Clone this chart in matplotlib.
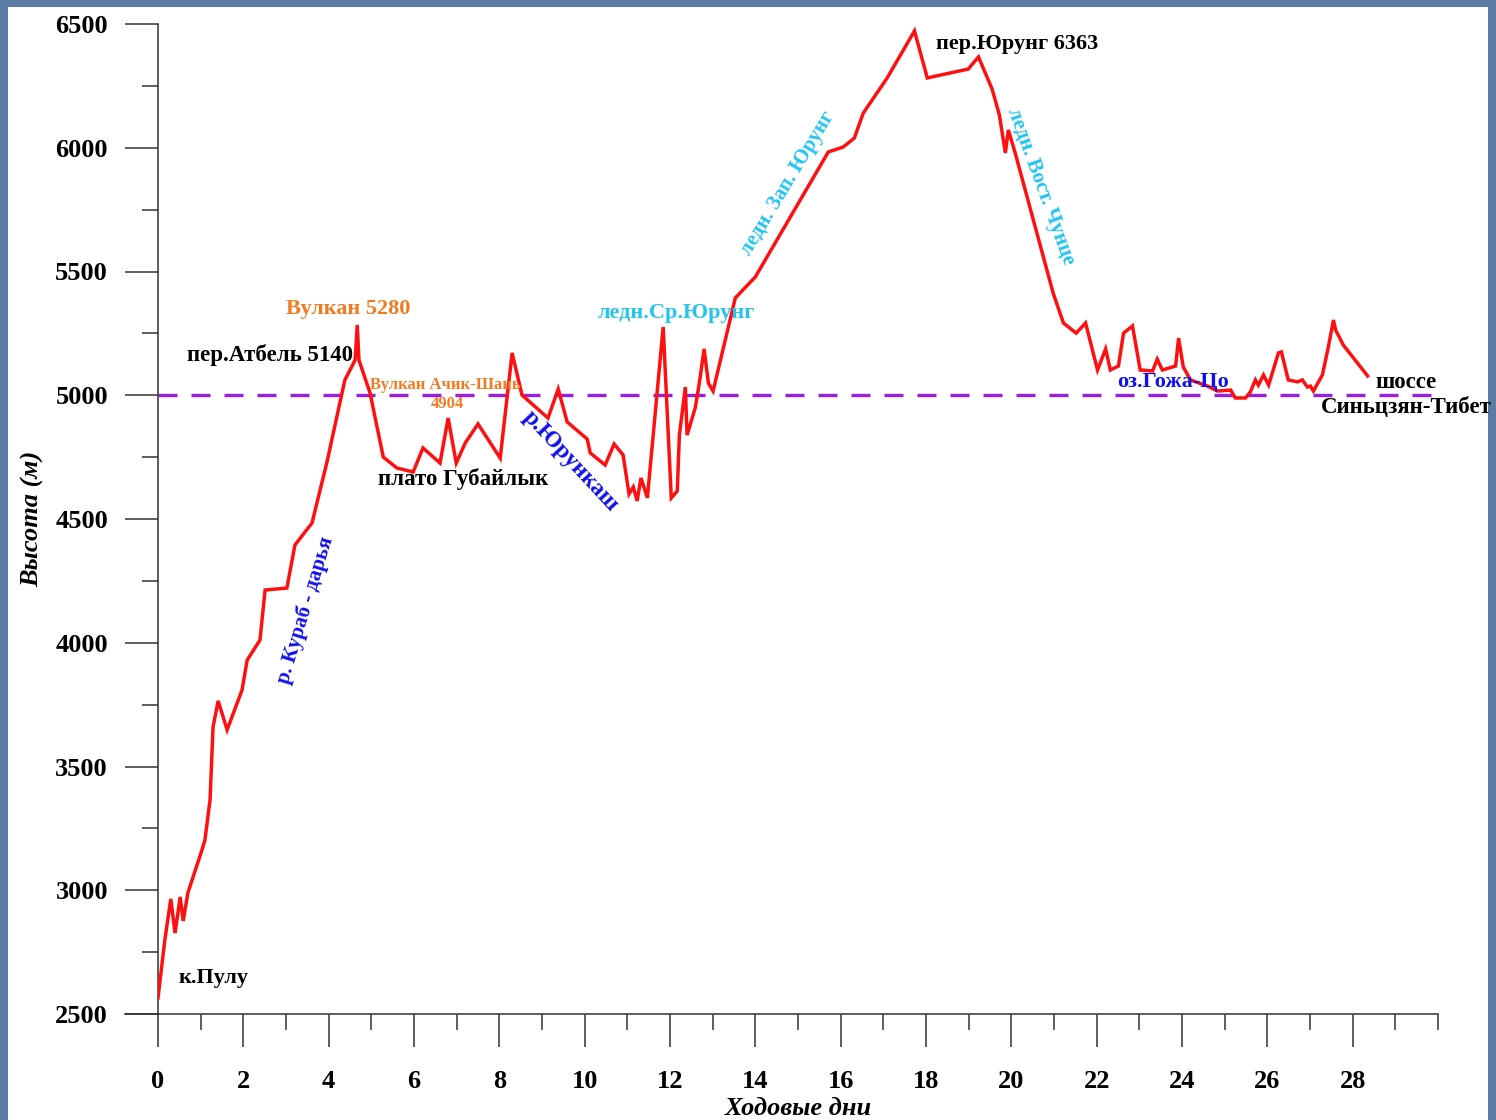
import matplotlib

matplotlib.use("Agg")
import matplotlib.pyplot as plt
from matplotlib.patches import Rectangle
from matplotlib.ticker import MultipleLocator

# elevation profile (day, metres)
days = [0.0, 0.16, 0.30, 0.40, 0.52, 0.59, 0.70, 1.03, 1.10, 1.22, 1.29, 1.41, 1.62,
        1.97, 2.09, 2.39, 2.51, 3.02, 3.21, 3.61, 3.96, 4.38, 4.62, 4.67, 4.71, 4.97,
        5.28, 5.60, 5.98, 6.21, 6.61, 6.80, 6.99, 7.20, 7.50, 8.02, 8.30, 8.53, 9.14,
        9.38, 9.59, 10.06, 10.13, 10.48, 10.69, 10.90, 11.04, 11.14, 11.23, 11.32, 11.47,
        11.84, 12.03, 12.17, 12.22, 12.36, 12.40, 12.59, 12.68, 12.80, 12.90, 13.01,
        13.53, 14.00, 15.71, 16.06, 16.32, 16.53, 17.09, 17.73, 18.03, 18.99, 19.23,
        19.55, 19.72, 19.86, 19.93, 20.09, 20.98, 21.22, 21.52, 21.74, 22.02, 22.21,
        22.32, 22.51, 22.63, 22.84, 23.02, 23.31, 23.42, 23.54, 23.85, 23.92, 24.03,
        24.20, 24.60, 24.83, 25.14, 25.25, 25.49, 25.60, 25.72, 25.79, 25.91, 26.03,
        26.26, 26.33, 26.49, 26.71, 26.82, 26.94, 27.01, 27.08, 27.29, 27.43, 27.55,
        27.60, 27.78, 28.35]
elevation = [2565, 2799, 2965, 2827, 2973, 2876, 2989, 3163, 3203, 3365, 3660, 3765, 3648,
             3809, 3930, 4011, 4213, 4221, 4395, 4484, 4730, 5062, 5142, 5284, 5142, 5009,
             4750, 4706, 4690, 4787, 4726, 4908, 4726, 4807, 4884, 4746, 5171, 5001, 4908,
             5025, 4892, 4823, 4767, 4718, 4803, 4759, 4601, 4629, 4573, 4666, 4585,
             5276, 4585, 4613, 4839, 5033, 4839, 4948, 5041, 5187, 5049, 5017,
             5393, 5478, 5983, 6003, 6039, 6140, 6282, 6472, 6282, 6318, 6367,
             6237, 6132, 5979, 6072, 5979, 5413, 5292, 5251, 5292, 5102, 5187,
             5102, 5118, 5251, 5280, 5102, 5098, 5146, 5102, 5118, 5231, 5114,
             5062, 5037, 5017, 5021, 4989, 4989, 5013, 5062, 5041, 5082, 5041,
             5171, 5175, 5062, 5054, 5062, 5033, 5037, 5017, 5082, 5195, 5304,
             5264, 5203, 5078]

ref_level = 5000

# (text, day, metres, colour, size, rotation)
labels = [
    ("Вулкан 5280", 4.45, 5350, "#f47a20", 16, 0),
    ("пер.Атбель 5140", 2.62, 5163, "black", 16.5, 0),
    ("Вулкан Ачик-Шань", 6.73, 5041, "#f47a20", 12, 0),
    ("4904", 6.78, 4965, "#f47a20", 12, 0),
    ("плато Губайлык", 7.15, 4662, "black", 16.5, 0),
    ("р.Юрункаш", 9.66, 4735, "#1010ee", 17, -47),
    ("р. Кураб - дарья", 3.45, 4132, "#1010ee", 15, 73),
    ("ледн.Ср.Юрунг", 12.15, 5332, "#22c4f2", 16, 0),
    ("ледн. Зап. Юрунг", 14.77, 5857, "#22c4f2", 15, 59),
    ("пер.Юрунг 6363", 20.14, 6419, "black", 16, 0),
    ("ледн. Вост. Чунце", 20.68, 5845, "#22c4f2", 15, -70),
    ("оз.Гожа-Цо", 23.78, 5053, "#1010ee", 16, 0),
    ("шоссе", 29.24, 5053, "black", 16.5, 0),
    ("к.Пулу", 1.29, 2645, "black", 16, 0),
]
road_label = ("Синьцзян-Тибет", 27.25, 4949)

serif = ["Liberation Serif", "DejaVu Serif"]

fig = plt.figure(figsize=(14.96, 11.2), dpi=100)
fig.patch.set_facecolor("#5b7ba5")
page = Rectangle((8 / 1496, 0), 1480 / 1496, 1 - 7 / 1120, transform=fig.transFigure,
                 facecolor="white", edgecolor="none", zorder=-5)
fig.patches.append(page)

ax = fig.add_axes([158 / 1496, 1 - 1014 / 1120, 1280 / 1496, 990 / 1120])
ax.set_facecolor("none")

ax.plot(days, elevation, color="#ff1010", lw=2.5, solid_joinstyle="miter", zorder=3)
ax.axhline(ref_level, xmax=0.995, color="#9a1ee0", lw=2.4, dashes=(5.7, 4.2), zorder=2)

ax.set_xlim(0, 30)
ax.set_ylim(2500, 6500)
ax.xaxis.set_major_locator(MultipleLocator(2))
ax.xaxis.set_minor_locator(MultipleLocator(1))
ax.yaxis.set_major_locator(MultipleLocator(500))
ax.yaxis.set_minor_locator(MultipleLocator(250))
ax.set_xticks(range(0, 29, 2))

for side in ("top", "right"):
    ax.spines[side].set_visible(False)
for side in ("left", "bottom"):
    ax.spines[side].set_color("#333333")
    ax.spines[side].set_linewidth(1.1)
ax.spines["bottom"].set_bounds(-33 / 42.65, 30)

ax.tick_params(which="major", direction="out", length=24, width=1.1, color="#333333",
               labelsize=19)
ax.tick_params(which="minor", direction="out", length=11.5, width=1.1, color="#333333")
ax.tick_params(axis="x", which="major", pad=16)
ax.tick_params(axis="y", which="major", pad=12)
for lab in ax.get_xticklabels() + ax.get_yticklabels():
    lab.set_family(serif)
    lab.set_fontweight("bold")

ax.set_xlabel("Ходовые дни", family=serif, fontsize=19, fontweight="bold",
              style="italic", labelpad=3)
ax.set_ylabel("Высота (м)", family=serif, fontsize=19, fontweight="bold",
              style="italic", labelpad=8)

for text, x, y, color, size, rot in labels:
    ax.text(x, y, text, color=color, fontsize=size, rotation=rot, family=serif,
            fontweight="bold", ha="center", va="center", rotation_mode="anchor", zorder=4)

t = ax.text(road_label[1], road_label[2], road_label[0], color="black", fontsize=16.5,
            family=serif, fontweight="bold", ha="left", va="center", zorder=4)
t.set_clip_path(page)

fig.savefig("out.png", dpi=100, facecolor=fig.get_facecolor())
